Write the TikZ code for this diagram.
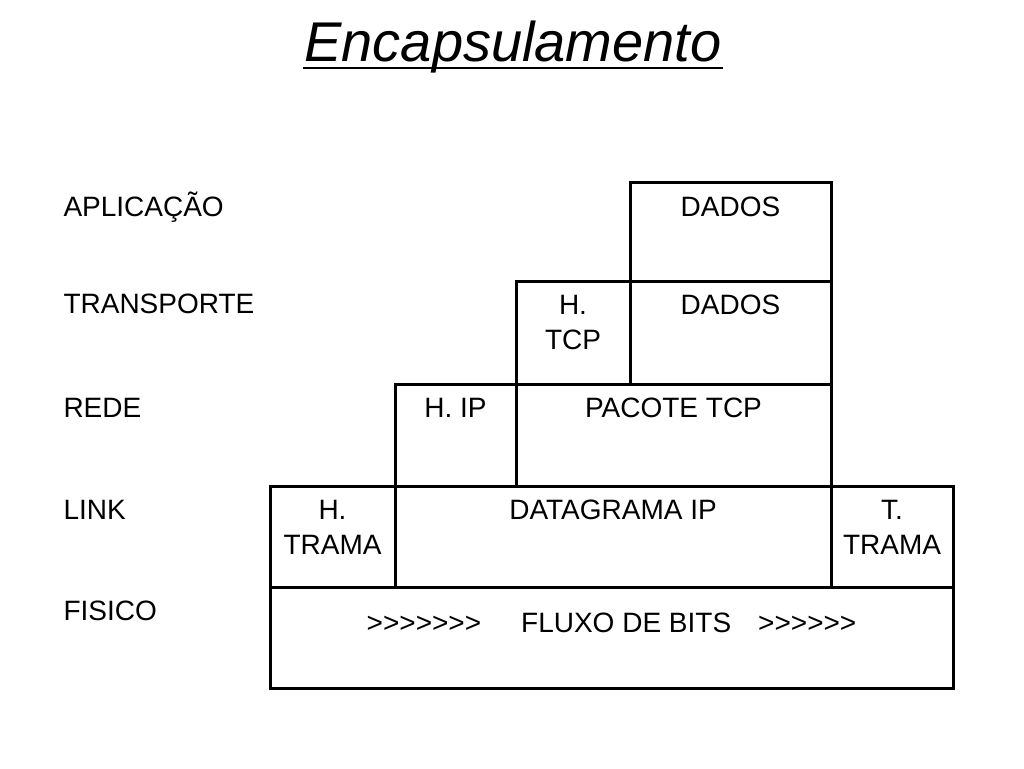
\documentclass[tikz,border=0pt]{standalone}
\usepackage{fontspec}
\setmainfont{Liberation Sans}
\usetikzlibrary{calc}
\newcommand\gts{>\kern0pt}

\begin{document}
\begin{tikzpicture}[x=1pt,y=-1pt,line width=3pt,
	every node/.style={inner sep=0pt,align=center,font=\fontsize{28}{35}\selectfont}]
	\useasboundingbox (0,0) rectangle (1024,768);
	\node[anchor=base,font=\itshape\fontsize{56}{60}\selectfont] (title) at (513,62) {Encapsulamento};
	\draw[line width=2.5pt] ($(title.base west)+(0,6)$) -- ($(title.base east)+(0,6)$);
	\draw (630,182) rectangle (831,281);
	\draw (516,281) rectangle (831,384);
	\draw (630,281) -- (630,384);
	\draw (395,384) rectangle (831,486);
	\draw (516,384) -- (516,486);
	\draw (270,486) rectangle (953,587);
	\draw (395,486) -- (395,587);
	\draw (831,486) -- (831,587);
	\draw (270,587) rectangle (953,688);
	\node[anchor=base west] (aplic) at (62,216) {APLICAÇÃO};
	\node[anchor=base west] (transp) at (62,313) {TRANSPORTE};
	\node[anchor=base west] (rede) at (62,417) {REDE};
	\node[anchor=base west] (link) at (62,519) {LINK};
	\node[anchor=base west] (fisico) at (62,620) {FISICO};
	\node[anchor=base] (dados) at (730.5,216) {DADOS};
	\node[anchor=base] (htcp) at (573,349) {H.\\TCP};
	\node[anchor=base] (dadostcp) at (730.5,314) {DADOS};
	\node[anchor=base] (hip) at (455.5,417) {H. IP};
	\node[anchor=base] (pacote) at (673.5,417) {PACOTE TCP};
	\node[anchor=base] (htrama) at (332.5,554) {H.\\TRAMA};
	\node[anchor=base] (datagrama) at (613,519) {DATAGRAMA IP};
	\node[anchor=base] (ttrama) at (892,554) {T.\\TRAMA};
	\node[anchor=base] (fluxo) at (611.5,632) {\gts\gts\gts\gts\gts\gts\gts\hspace{40pt}FLUXO DE BITS\hspace{27pt}\gts\gts\gts\gts\gts\gts};
\end{tikzpicture}
\end{document}
